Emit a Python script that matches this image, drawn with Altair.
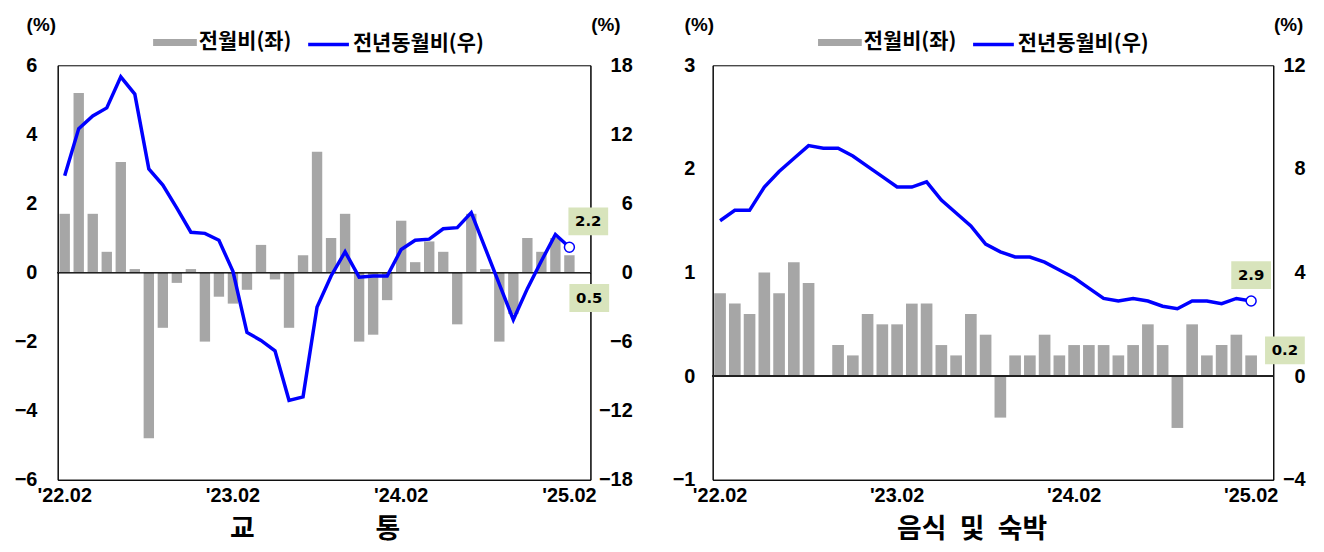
import altair as alt
import pandas as pd

# ---- categories ----
months = []
for yy in (22, 23, 24, 25):
    for mm in range(1, 13):
        if (yy == 22 and mm < 2) or (yy == 25 and mm > 2):
            continue
        months.append(f"'{yy}.{mm:02d}")
x_domain = months + ["'25.03"]          # one empty band at the right end
x_ticks = ["'22.02", "'23.02", "'24.02", "'25.02"]

LEG_MOM = "전월비(좌)"
LEG_YOY = "전년동월비(우)"

# ---- 교통 ----
transport_mom = [1.7, 5.2, 1.7, 0.6, 3.2, 0.1, -4.8, -1.6, -0.3, 0.1, -2.0, -0.7,
                 -0.9, -0.5, 0.8, -0.2, -1.6, 0.5, 3.5, 1.0, 1.7, -2.0, -1.8, -0.8,
                 1.5, 0.3, 0.9, 0.6, -1.5, 1.7, 0.1, -2.0, -1.2, 1.0, 0.6, 1.0, 0.5]
transport_yoy = [8.4, 12.5, 13.6, 14.3, 17.0, 15.5, 9.0, 7.6, 5.6, 3.5, 3.4, 2.8,
                 0.1, -5.2, -5.9, -6.8, -11.1, -10.8, -3.0, -0.3, 1.8, -0.4, -0.3, -0.3,
                 2.0, 2.8, 2.9, 3.8, 3.9, 5.2, 2.1, -1.0, -4.1, -1.4, 1.0, 3.3, 2.2]

# ---- 음식 및 숙박 ----
food_mom = [0.8, 0.7, 0.6, 1.0, 0.8, 1.1, 0.9, 0.0, 0.3, 0.2, 0.6, 0.5,
            0.5, 0.7, 0.7, 0.3, 0.2, 0.6, 0.4, -0.4, 0.2, 0.2, 0.4, 0.2,
            0.3, 0.3, 0.3, 0.2, 0.3, 0.5, 0.3, -0.5, 0.5, 0.2, 0.3, 0.4, 0.2]
food_yoy = [6.0, 6.4, 6.4, 7.3, 7.9, 8.4, 8.9, 8.8, 8.8, 8.5, 8.1, 7.7,
            7.3, 7.3, 7.5, 6.8, 6.3, 5.8, 5.1, 4.8, 4.6, 4.6, 4.4, 4.1,
            3.8, 3.4, 3.0, 2.9, 3.0, 2.9, 2.7, 2.6, 2.9, 2.9, 2.8, 3.0, 2.9]

LAT = "Liberation Sans"
KR = "Noto Sans CJK KR"
BOX = "M-1,-0.7H1V0.7H-1Z"
GRAY = "#a6a6a6"
BLUE = "#0000ff"


def legend(x, y):
    return dict(orient="none", legendX=x, legendY=y, direction="horizontal",
                title=None, padding=0, labelOffset=2, labelFont=KR, labelFontSize=21,
                labelFontWeight="bold", labelColor="black")


def panel(mom, yoy, title, width, left_dom, left_vals, right_dom, right_vals,
          pad, lext, lpad, rpad, ltx, rtx, legx1, legx2, yoy_off, mom_off, title_dx):
    df = pd.DataFrame({"month": months, "mom": mom, "yoy": yoy})
    last = months[-1]
    base = alt.Chart(df)
    x = alt.X("month:O", scale=alt.Scale(domain=x_domain, paddingInner=pad, paddingOuter=pad / 2),
              axis=alt.Axis(values=x_ticks, labelAngle=0, title=None, ticks=False,
                            domainColor="black", labelFont=LAT, labelFontSize=20,
                            labelFontWeight="bold", labelColor="black", labelPadding=6))

    yl = alt.Y("mom:Q", scale=alt.Scale(domain=left_dom, nice=False, zero=False),
               axis=alt.Axis(orient="left", values=left_vals, format="d", title="(%)", titleAngle=0,
                             titleX=ltx, titleY=-41, titleAlign="center", titleBaseline="middle",
                             titleFont=LAT, titleFontSize=19, titleFontWeight="bold", titleColor="black",
                             ticks=False, grid=False, domainColor="black", labelFont=LAT,
                             labelFontSize=20, labelFontWeight="bold", labelColor="black",
                             labelPadding=lpad, minExtent=lext, maxExtent=lext))
    yr = alt.Y("yoy:Q", scale=alt.Scale(domain=right_dom, nice=False, zero=False),
               axis=alt.Axis(orient="right", values=right_vals, format="d", title="(%)", titleAngle=0,
                             titleX=rtx, titleY=-41, titleAlign="center", titleBaseline="middle",
                             titleFont=LAT, titleFontSize=19, titleFontWeight="bold", titleColor="black",
                             ticks=False, grid=False, domainColor="black", labelFont=LAT,
                             labelFontSize=20, labelFontWeight="bold", labelColor="black",
                             labelAlign="right", labelPadding=rpad, minExtent=42, maxExtent=42))

    bars = base.transform_calculate(series=f"'{LEG_MOM}'").mark_bar().encode(
        x=x, y=yl,
        color=alt.Color("series:N", scale=alt.Scale(domain=[LEG_MOM], range=[GRAY]),
                        legend=alt.Legend(symbolType="M-1,-0.16H1V0.16H-1Z", symbolSize=1936,
                                          symbolStrokeWidth=0, symbolOpacity=1,
                                          **legend(legx1, -45))))
    zero = base.mark_rule(color="#222222", strokeWidth=1).encode(y=alt.Y(datum=0))
    lastf = base.transform_filter(alt.datum.month == last)
    mom_box = lastf.mark_point(shape=BOX, filled=True, color="#d8e4bc", opacity=1, size=1600,
                               xOffset=mom_off[0], yOffset=mom_off[1]).encode(x=x, y="mom:Q")
    mom_txt = lastf.mark_text(font="DejaVu Sans", fontSize=15, fontWeight="bold", color="black",
                              dx=mom_off[0], dy=mom_off[1]).encode(
        x=x, y="mom:Q", text=alt.Text("mom:Q", format=".1f"))
    left_layer = alt.layer(bars, zero, mom_box, mom_txt)

    line = base.transform_calculate(series=f"'{LEG_YOY}'").mark_line(strokeWidth=3.5).encode(
        x=x, y=yr,
        stroke=alt.Stroke("series:N", scale=alt.Scale(domain=[LEG_YOY], range=[BLUE]),
                          legend=alt.Legend(symbolType="stroke", symbolSize=1681,
                                            symbolStrokeWidth=3.5, **legend(legx2, -43.5))))
    endpt = lastf.mark_point(shape="circle", filled=True, fill="white", stroke=BLUE,
                             strokeWidth=1.5, size=100, opacity=1).encode(x=x, y="yoy:Q")
    yoy_box = lastf.mark_point(shape=BOX, filled=True, color="#d8e4bc", opacity=1, size=1600,
                               xOffset=yoy_off[0], yOffset=yoy_off[1]).encode(x=x, y="yoy:Q")
    yoy_txt = lastf.mark_text(font="DejaVu Sans", fontSize=15, fontWeight="bold", color="black",
                              dx=yoy_off[0], dy=yoy_off[1]).encode(
        x=x, y="yoy:Q", text=alt.Text("yoy:Q", format=".1f"))
    right_layer = alt.layer(line, endpt, yoy_box, yoy_txt)

    return alt.layer(left_layer, right_layer).resolve_scale(y="independent").properties(
        width=width, height=417,
        title=alt.TitleParams(title, orient="bottom", anchor="middle", frame="group", font=KR,
                              fontSize=27, fontWeight="bold", color="black", offset=12, dx=title_dx))


p1 = panel(transport_mom, transport_yoy, "교" + "\u2003" * 4 + "\u2002" + "통", 536,
           [-6, 6], [-6, -4, -2, 0, 2, 4, 6], [-18, 18], [-18, -12, -6, 0, 6, 12, 18],
           0.26, 49, 21, 42, -17, 15, 96, 250, (19, -26), (20, 43), -9)
p2 = panel(food_mom, food_yoy, "음식\u2002및\u2002숙박", 564,
           [-1, 3], [-1, 0, 1, 2, 3], [-4, 12], [-4, 0, 4, 8, 12],
           0.21, 42, 18, 32, -14, 15, 106, 260, (0, -26), (34, -5), -21)

chart = alt.hconcat(p1, p2, spacing=37).resolve_scale(
    color="independent", stroke="independent").resolve_legend(
    color="independent", stroke="independent").properties(
    padding={"left": 0, "top": 5, "right": 0, "bottom": 0}).configure_view(
    stroke="black", strokeWidth=1).configure_axis(grid=False)

chart.save("out.html", embed_options={"renderer": "svg", "actions": False})
